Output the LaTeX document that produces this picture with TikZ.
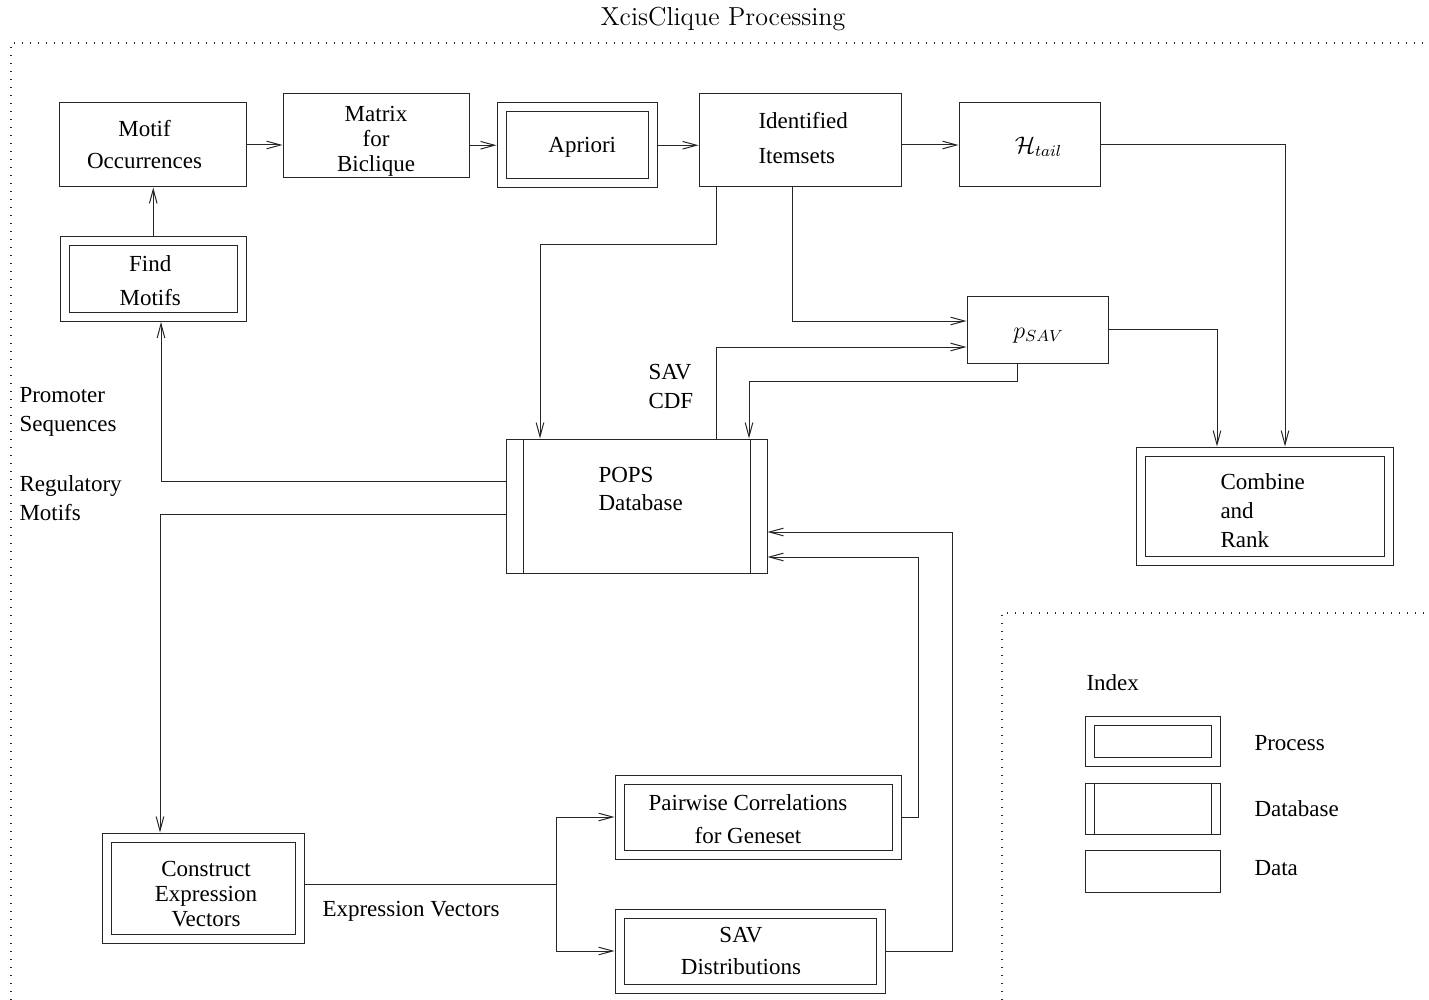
\documentclass[tikz,border=0pt]{standalone}
\usepackage{fontspec}
\setmainfont{Liberation Serif}
\usetikzlibrary{arrows.meta,calc}
\begin{document}
\begin{tikzpicture}[x=0.5pt,y=-0.5pt,
  line width=0.5pt, draw=black!85,
  every node/.style={inner sep=0pt, font=\fontsize{11.5}{14}\selectfont},
  lines/.style={font=\fontsize{11.5}{#1}\selectfont},
  sz/.style 2 args={minimum width=#1*0.5pt, minimum height=#2*0.5pt},
  databox/.style={draw=black!85, rectangle},
  procbox/.style={draw=black!85, rectangle, double, double distance=4pt, outer sep=2.5pt},
  dbbox/.style={draw=black!85, rectangle,
    path picture={
      \draw[line width=0.5pt, black!85] ([xshift=#1]path picture bounding box.south west) -- ([xshift=#1]path picture bounding box.north west);
      \draw[line width=0.5pt, black!85] ([xshift=-#1]path picture bounding box.south east) -- ([xshift=-#1]path picture bounding box.north east);}},
  arr/.style={-{Straight Barb[length=7pt,width=3.8pt]}},
  frame/.style={line width=0.6pt, dash pattern=on 0.6pt off 3.4pt}
]
\useasboundingbox (0,0) rectangle (1429,1000);

% frames
\node[font={\fontsize{13}{15}\fontfamily{lmr}\selectfont}] (title) at (723,19) {XcisClique Processing};
\draw[frame] (11,1000) -- (11,43) -- (1429,43);
\draw[frame] (1002,1000) -- (1002,613) -- (1429,613);

% boxes
\node[databox, sz={187}{84}] (motif) at (152.5,145) {};
\node[databox, sz={186}{84}] (matrix) at (376,136) {};
\node[procbox, sz={151.5}{75.5}] (apriori) at (577.25,145.25) {};
\node[databox, sz={202}{93}] (ident) at (800,140.5) {};
\node[databox, sz={141}{84}] (htail) at (1029.5,145) {};
\node[databox, sz={141}{67}] (psav) at (1037.5,329.5) {};
\node[procbox, sz={176.5}{75.5}] (find) at (153.25,279.25) {};
\node[dbbox=8.5pt, sz={261}{134}] (pops) at (636.5,506) {};
\node[procbox, sz={248}{109}] (combine) at (1264.5,506) {};
\node[procbox, sz={193}{101}] (construct) at (203,888) {};
\node[procbox, sz={277}{75}] (pairwise) at (758,817) {};
\node[procbox, sz={261}{75}] (savdist) at (750,951) {};

% box texts
\node[align=center, lines=16pt] (motiftext) at ($(motif)+(-8,0)$) {Motif\\Occurrences};
\node[align=center, lines=12.5pt] (matrixtext) at ($(matrix)+(0,5)$) {Matrix\\for\\Biclique};
\node (aprioritext) at ($(apriori)+(5,2)$) {Apriori};
\node[anchor=west, align=left, lines=17.5pt] (identtext) at (758,138) {Identified\\Itemsets};
\node (htailtext) at ($(htail)+(9,2)$) {$\mathcal{H}_{tail}$};
\node (psavtext) at ($(psav)+(1,6)$) {$p_{SAV}$};
\node[align=center, lines=17pt] (findtext) at ($(find)+(-3,1)$) {Find\\Motifs};
\node[anchor=west, align=left, lines=14pt] (popstext) at (598,489) {POPS\\Database};
\node[anchor=west, align=left, lines=14.5pt] (combinetext) at (1220,511) {Combine\\and\\Rank};
\node[align=center, lines=12.5pt] (constructtext) at ($(construct)+(3,6)$) {Construct\\Expression\\Vectors};
\node[align=center, lines=16.5pt] (pairwisetext) at ($(pairwise)+(-10,2)$) {Pairwise Correlations\\for Geneset};
\node[align=center, lines=16pt] (savdisttext) at ($(savdist)+(-9,0)$) {SAV\\Distributions};

% free labels
\node[anchor=west, align=left, lines=14.5pt] (promoter) at (19,412) {Promoter\\Sequences};
\node[anchor=west, align=left, lines=14.5pt] (regulatory) at (19,498) {Regulatory\\Motifs};
\node[anchor=west, align=left, lines=14.5pt] (savcdf) at (648,386) {SAV\\CDF};
\node[anchor=west] (exprlabel) at (322,911) {Expression Vectors};

% legend
\node[anchor=west] (index) at (1086,683) {Index};
\node[procbox, sz={126}{41}] (lgproc) at (1152.5,741) {};
\node[dbbox=4.5pt, sz={135}{51}] (lgdb) at (1152.5,808.5) {};
\node[databox, sz={135}{42}] (lgdata) at (1152.5,871) {};
\node[anchor=west] (lgproclabel) at (1254,743) {Process};
\node[anchor=west] (lgdblabel) at (1254,809) {Database};
\node[anchor=west] (lgdatalabel) at (1254,868) {Data};

% connectors
\draw[arr] (motif.east) -- (motif.east -| matrix.west);
\draw[arr] (apriori.west -| matrix.east) -- (apriori.west);
\draw[arr] (apriori.east) -- (apriori.east -| ident.west);
\draw[arr] (htail.west -| ident.east) -- (htail.west);
\draw[arr] (find.north) -- (find.north |- motif.south);
\draw[arr] (pops.west |- 0,481) -| (find.south -| 161,0);
\draw[arr] (pops.west |- 0,514) -| (construct.north -| 160,0);
\draw[arr] (ident.south -| 716,0) |- (540,245) -- (pops.north -| 540,0);
\draw[arr] (ident.south -| 792,0) |- (psav.west |- 0,321);
\draw[arr] (pops.north -| 716,0) |- (psav.west |- 0,347);
\draw[arr] (psav.south -| 1017,0) |- (749,381) -- (pops.north -| 749,0);
\draw[arr] (psav.east) -| (combine.north -| 1217,0);
\draw[arr] (htail.east) -| (combine.north -| 1285,0);
\coordinate (split) at (556,884);
\draw (construct.east |- split) -- (split);
\draw[arr] (split) |- (pairwise.west);
\draw[arr] (split) |- (savdist.west);
\draw[arr] (pairwise.east) -| (918,557) -- (pops.east |- 0,557);
\draw[arr] (savdist.east) -| (952,532) -- (pops.east |- 0,532);
\end{tikzpicture}
\end{document}
